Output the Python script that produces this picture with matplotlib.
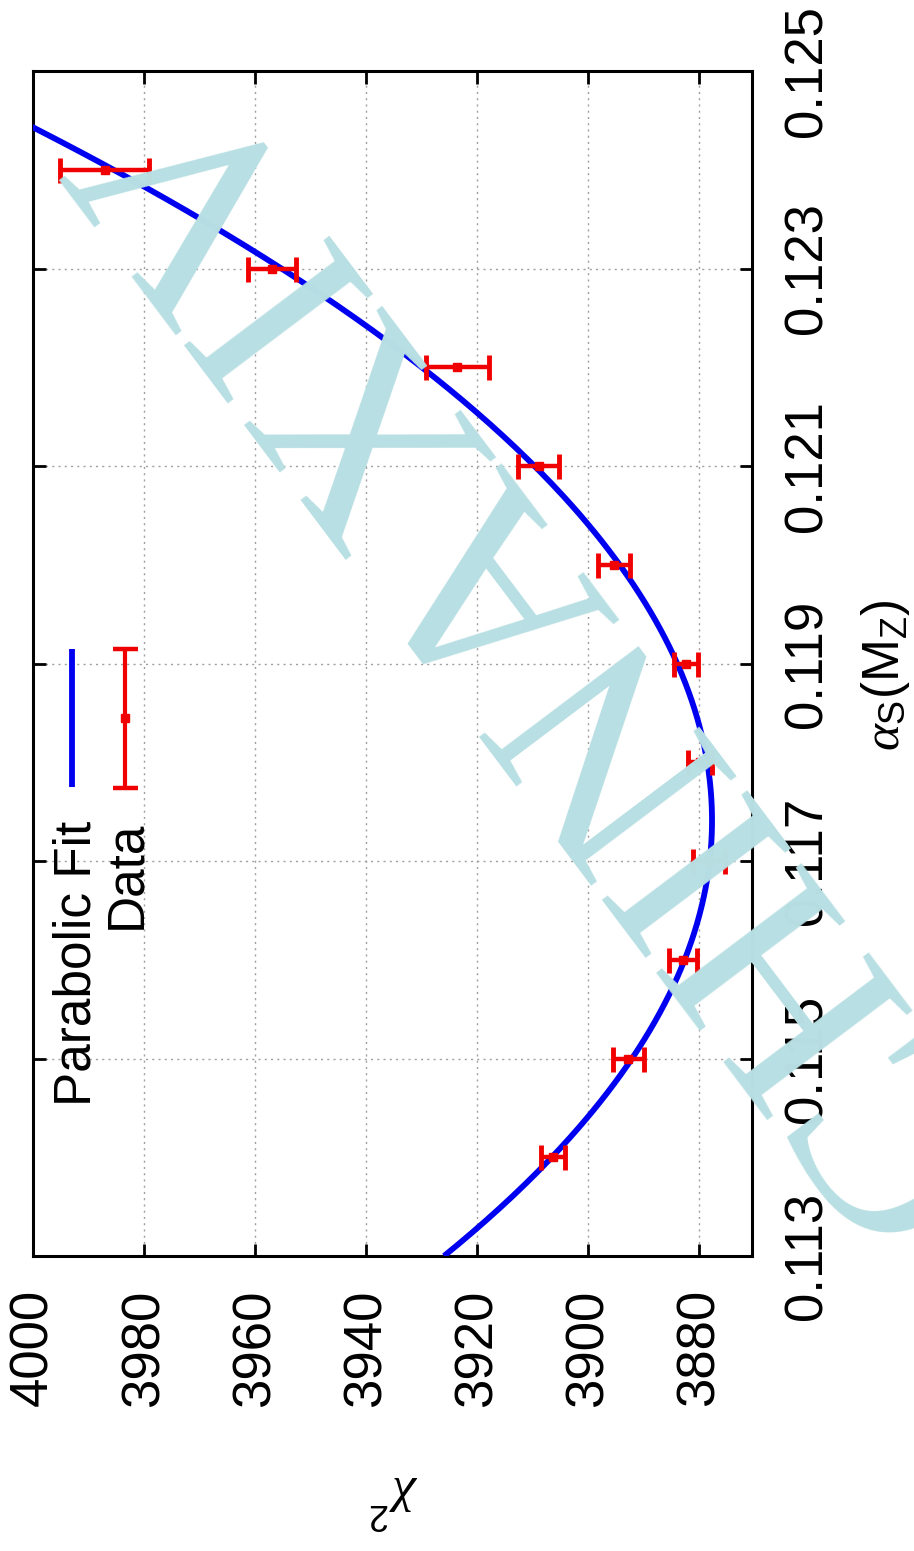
import numpy as np
import matplotlib
matplotlib.use("Agg")
import matplotlib.pyplot as plt

# ---------------- data ----------------
alpha_s = [0.114, 0.115, 0.116, 0.117, 0.118, 0.119, 0.120, 0.121, 0.122, 0.123, 0.124]
chi2 = [3906.3, 3892.8, 3882.9, 3878.2, 3879.9, 3882.4, 3895.3, 3908.9, 3923.6, 3956.9, 3987.1]
chi2_err = [2.2, 2.8, 2.5, 2.9, 2.2, 2.1, 2.9, 3.7, 5.7, 4.3, 8.0]

# parabolic fit: chi2 = a*(alpha - alpha0)^2 + chi2_min
fit_a = 2.482e6
fit_alpha0 = 0.11741
fit_chi2_min = 3877.7
fit_alpha_range = (0.113, 0.1250)

chi2_ticks = [4000, 3980, 3960, 3940, 3920, 3900, 3880]
alpha_ticks = [0.113, 0.115, 0.117, 0.119, 0.121, 0.123, 0.125]
legend_labels = ["Parabolic Fit", "Data"]
watermark = "CHINAXIV"

# ---------------- style ----------------
plt.rcParams['font.family'] = ['Liberation Sans', 'DejaVu Sans']
plt.rcParams['mathtext.fontset'] = 'custom'
plt.rcParams['mathtext.rm'] = 'Liberation Sans'
plt.rcParams['mathtext.it'] = 'Liberation Serif:italic'
plt.rcParams['mathtext.bf'] = 'Liberation Sans:bold'

W, H = 914, 1551
fig = plt.figure(figsize=(W / 100, H / 100), dpi=100)
ax = fig.add_axes([33 / W, 1 - 1256 / H, (752 - 33) / W, (1256 - 71) / H])

# fit curve
a_fit = np.linspace(fit_alpha_range[0], fit_alpha_range[1], 400)
c_fit = fit_a * (a_fit - fit_alpha0) ** 2 + fit_chi2_min
ax.plot(c_fit, a_fit, color='#0000f0', lw=4.2, zorder=3, solid_capstyle='butt')

# data with error bars
ax.errorbar(chi2, alpha_s, xerr=chi2_err, fmt='s', color='#f00000', ms=6,
            elinewidth=3.2, capsize=9, capthick=3.5, zorder=4)

ax.set_xlim(4000, 3870.5)
ax.set_ylim(0.113, 0.125)
ax.set_xticks(chi2_ticks)
ax.set_xticklabels([str(t) for t in chi2_ticks])
ax.set_yticks(alpha_ticks)
ax.set_yticklabels([f"{t:.3f}" for t in alpha_ticks])

ax.grid(True, color='#a0a0a0', linestyle=(0, (1.5, 3)), linewidth=1.0)
for s in ax.spines.values():
    s.set_linewidth(2.2)
ax.tick_params(axis='both', direction='in', length=9, width=2,
               top=True, bottom=True, left=True, right=True)
ax.tick_params(axis='x', labelbottom=True, labeltop=False, labelsize=38, pad=24)
ax.tick_params(axis='y', labelleft=False, labelright=True, labelsize=38, pad=22)
for lab in ax.get_xticklabels():
    lab.set_rotation(90)
    lab.set_va('top')
    lab.set_ha('center')
for lab in ax.get_yticklabels():
    lab.set_rotation(90)
    lab.set_va('center')
    lab.set_ha('left')

# legend (drawn rotated, as in the reference)
ax.plot([0.0542, 0.0542], [0.3954, 0.5126], transform=ax.transAxes,
        color='#0000f0', lw=4.2, solid_capstyle='butt', zorder=5)
ax.errorbar([0.128], [0.4536], yerr=[0.059], transform=ax.transAxes,
            fmt='s', color='#f00000', ms=6, elinewidth=3, capsize=9,
            capthick=3.2, zorder=5)
ax.text(0.0793, 0.3676, legend_labels[0], transform=ax.transAxes, rotation=90,
        rotation_mode='anchor', ha='right', va='baseline', fontsize=37)
ax.text(0.1488, 0.3676, legend_labels[1], transform=ax.transAxes, rotation=90,
        rotation_mode='anchor', ha='right', va='baseline', fontsize=37)

# axis labels
fig.text(886 / W, 1 - 675 / H, r'$\alpha_\mathrm{S}\mathrm{(M_Z)}$', rotation=90,
         ha='center', va='center', fontsize=37)
fig.text(394 / W, 1 - 1502 / H, r'$\chi^2$', rotation=180,
         ha='center', va='center', fontsize=37)

# watermark
fig.text(545 / W, 1 - 645 / H, watermark, rotation=127, ha='center', va='center',
         fontsize=200, family='Liberation Serif', color='#b8dfe3', zorder=10)

fig.savefig('out.png', dpi=100)
